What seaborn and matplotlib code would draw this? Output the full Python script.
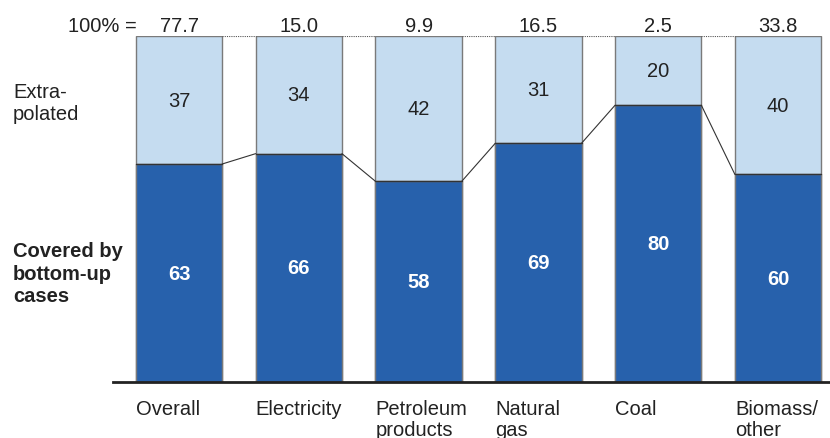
import matplotlib
matplotlib.use("Agg")
import matplotlib.pyplot as plt
import matplotlib.transforms as mtransforms
import seaborn as sns
import pandas as pd
import numpy as np

categories = ["Overall", "Electricity", "Petroleum\nproducts", "Natural\ngas", "Coal", "Biomass/\nother"]
covered = [63, 66, 58, 69, 80, 60]
extrapolated = [37, 34, 42, 31, 20, 40]
totals = ["77.7", "15.0", "9.9", "16.5", "2.5", "33.8"]

sns.set_theme(style="white")
plt.rcParams["font.family"] = ["Liberation Sans", "DejaVu Sans"]

DARK = "#2761AC"
LIGHT = "#C5DCF0"
EDGE = "#7A7A7A"
TEXT = "#222222"
FS = 14.5
WIDTH = 0.72

df = pd.DataFrame({
    "category": categories,
    "covered": covered,
    "extrapolated": extrapolated,
})
df["total"] = df["covered"] + df["extrapolated"]

fig = plt.figure(figsize=(8.3, 4.39), dpi=100)
ax = fig.add_axes([113 / 830, 1 - 383 / 439, 1 - 113 / 830, (383 - 37) / 439])

sns.barplot(data=df, x="category", y="total", color=LIGHT, saturation=1,
            width=WIDTH, edgecolor=EDGE, linewidth=1.0, ax=ax)
sns.barplot(data=df, x="category", y="covered", color=DARK, saturation=1,
            width=WIDTH, edgecolor=EDGE, linewidth=1.0, ax=ax)

x = np.arange(len(categories))
half = WIDTH / 2

# boundary between the two segments
for xi, c in zip(x, covered):
    ax.plot([xi - half, xi + half], [c, c], color="#333333", lw=1.0, zorder=5)

# connectors between neighbouring bars
for i in range(len(categories) - 1):
    ax.plot([x[i] + half, x[i + 1] - half], [covered[i], covered[i + 1]],
            color="#333333", lw=0.8, zorder=4)
    ax.plot([x[i] + half, x[i + 1] - half], [df["total"][i], df["total"][i + 1]],
            color="#555555", lw=0.8, ls=(0, (1, 1)), zorder=4)

# segment labels
for xi, c, e in zip(x, covered, extrapolated):
    ax.text(xi, c / 2, f"{c}", ha="center", va="center", color="white",
            fontsize=FS, fontweight="bold", zorder=6)
    ax.text(xi, c + e / 2, f"{e}", ha="center", va="center", color=TEXT,
            fontsize=FS, zorder=6)

# totals above the bars
for xi, t, tot in zip(x, totals, df["total"]):
    ax.annotate(t, (xi, tot), xytext=(0, 3.5), textcoords="offset points",
                ha="center", va="baseline", fontsize=FS, color=TEXT,
                annotation_clip=False)
fig.text(68 / 830, 1 - 32 / 439, "100% =", ha="left", va="baseline",
         fontsize=FS, color=TEXT)

# category labels, left-aligned under each bar
trans = mtransforms.blended_transform_factory(ax.transData, ax.transAxes)
for xi, cat in zip(x, categories):
    ax.annotate(cat, (xi - half, 0), xycoords=trans, xytext=(0, -12.5),
                textcoords="offset points", ha="left", va="top",
                fontsize=FS, color=TEXT, linespacing=1.12,
                annotation_clip=False)

ax.set_xlim(-0.551, 5.434)
ax.set_ylim(0, 100)
ax.set_xticks([])
ax.set_yticks([])
ax.set_xlabel("")
ax.set_ylabel("")
for side in ["top", "right", "left"]:
    ax.spines[side].set_visible(False)
ax.spines["bottom"].set_color(TEXT)
ax.spines["bottom"].set_linewidth(2)

fig.text(13 / 830, 1 - 103.5 / 439, "Extra-\npolated", ha="left", va="center",
         fontsize=FS, color=TEXT, linespacing=1.22)
fig.text(13 / 830, 1 - 274 / 439, "Covered by\nbottom-up\ncases", ha="left",
         va="center", fontsize=FS, fontweight="bold", color=TEXT,
         linespacing=1.22)

fig.savefig("out.png", dpi=100)
